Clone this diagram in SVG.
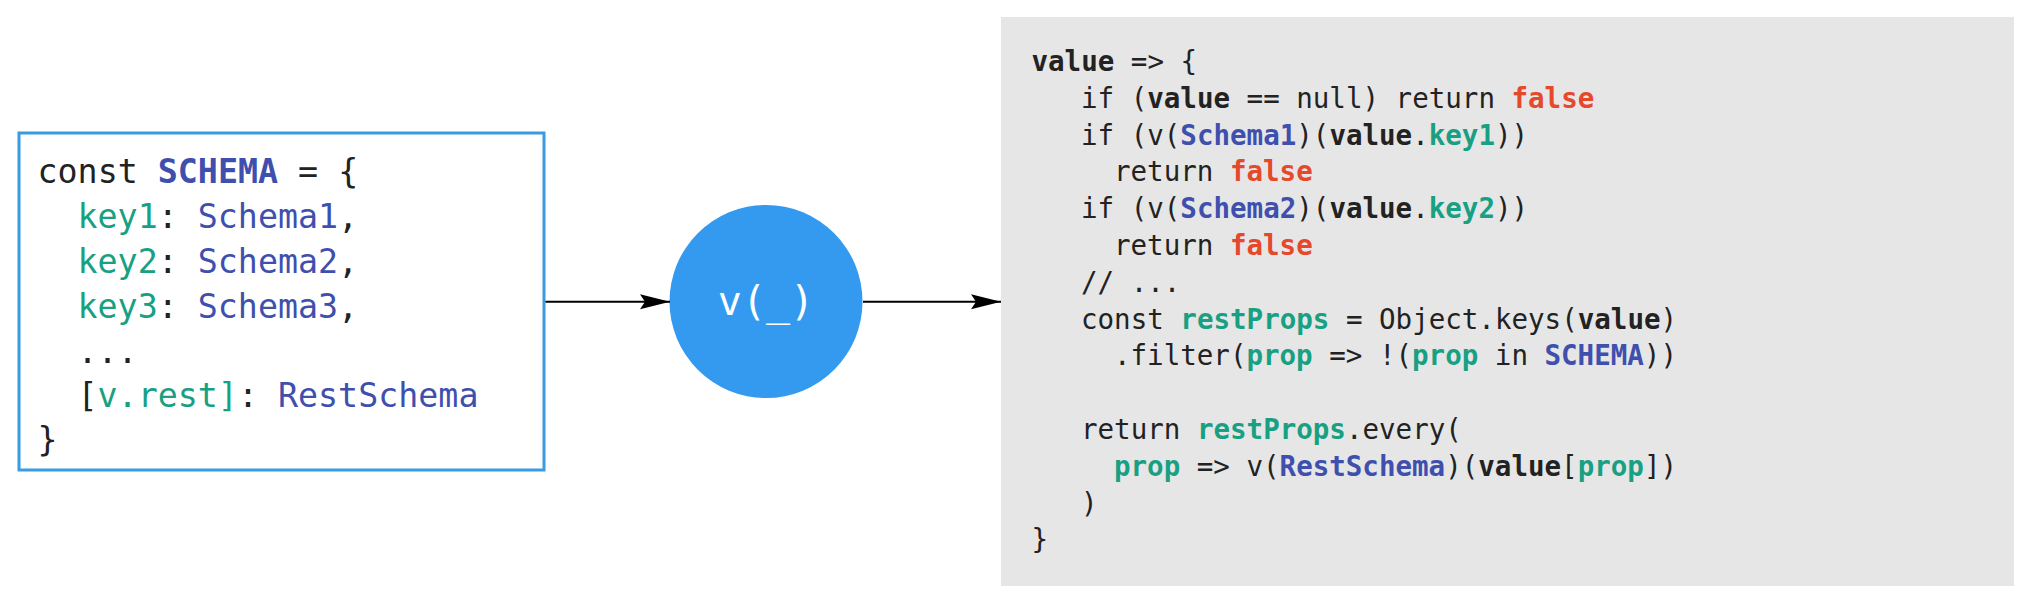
<svg xmlns="http://www.w3.org/2000/svg" width="2034" height="616" viewBox="0 0 2034 616">
<style>
.code{font-family:"DejaVu Sans Mono","Liberation Mono",monospace;fill:#222222;white-space:pre;}
.l{font-size:33.3px;}
.r{font-size:27.5px;}
.b{font-weight:bold;}
.bl{fill:#3f4fae;}
.gr{fill:#17a082;}
.rd{fill:#e6482c;}
.conn{stroke:#000000;stroke-width:2;fill:none;}
</style>
<defs>
<marker id="ah" viewBox="0 0 30 16" refX="30" refY="8" markerWidth="30" markerHeight="16" markerUnits="userSpaceOnUse" orient="auto">
<path d="M0,0.5 L30,8 L0,15.5 L5,8 Z" fill="#000000"/>
</marker>
</defs>
<rect width="2034" height="616" fill="#ffffff"/>
<g id="schema-node">
<rect x="19" y="133" width="525" height="337" fill="#ffffff" stroke="#3a9ae2" stroke-width="3"/>
<g class="code l">
<text x="37.5" y="183">const <tspan class="b bl">SCHEMA</tspan> = {</text>
<text x="77.5" y="228"><tspan class="gr">key1</tspan>: <tspan class="bl">Schema1</tspan>,</text>
<text x="77.5" y="273"><tspan class="gr">key2</tspan>: <tspan class="bl">Schema2</tspan>,</text>
<text x="77.5" y="318"><tspan class="gr">key3</tspan>: <tspan class="bl">Schema3</tspan>,</text>
<text x="77.5" y="363">...</text>
<text x="77.5" y="407">[<tspan class="gr">v.rest]</tspan>: <tspan class="bl">RestSchema</tspan></text>
<text x="37.5" y="451">}</text>
</g>
</g>
<g id="v-node">
<circle cx="766" cy="301.5" r="96.5" fill="#339af0"/>
<text x="766" y="315" text-anchor="middle" font-family="DejaVu Sans Mono, Liberation Mono, monospace" font-size="40" fill="#ffffff">v(_)</text>
</g>
<g id="validator-node">
<rect x="1001" y="17" width="1013" height="569" fill="#e6e6e6"/>
<g class="code r">
<text x="1031.5" y="71"><tspan class="b">value</tspan> => {</text>
<text x="1081" y="107.8">if (<tspan class="b">value</tspan> == null) return <tspan class="b rd">false</tspan></text>
<text x="1081" y="144.6">if (v(<tspan class="b bl">Schema1</tspan>)(<tspan class="b">value</tspan>.<tspan class="b gr">key1</tspan>))</text>
<text x="1114" y="181.4">return <tspan class="b rd">false</tspan></text>
<text x="1081" y="218.2">if (v(<tspan class="b bl">Schema2</tspan>)(<tspan class="b">value</tspan>.<tspan class="b gr">key2</tspan>))</text>
<text x="1114" y="255">return <tspan class="b rd">false</tspan></text>
<text x="1081" y="291.8">// ...</text>
<text x="1081" y="328.6">const <tspan class="b gr">restProps</tspan> = Object.keys(<tspan class="b">value</tspan>)</text>
<text x="1114" y="365.4">.filter(<tspan class="b gr">prop</tspan> => !(<tspan class="b gr">prop</tspan> in <tspan class="b bl">SCHEMA</tspan>))</text>
<text x="1081" y="439">return <tspan class="b gr">restProps</tspan>.every(</text>
<text x="1114" y="475.8"><tspan class="b gr">prop</tspan> => v(<tspan class="b bl">RestSchema</tspan>)(<tspan class="b">value</tspan>[<tspan class="b gr">prop</tspan>])</text>
<text x="1081" y="512.6">)</text>
<text x="1031.5" y="549.4">}</text>
</g>
</g>
<g id="connectors">
<line class="conn" x1="545.5" y1="301.7" x2="670" y2="301.7" marker-end="url(#ah)"/>
<line class="conn" x1="863" y1="301.7" x2="1001" y2="301.7" marker-end="url(#ah)"/>
</g>
</svg>
